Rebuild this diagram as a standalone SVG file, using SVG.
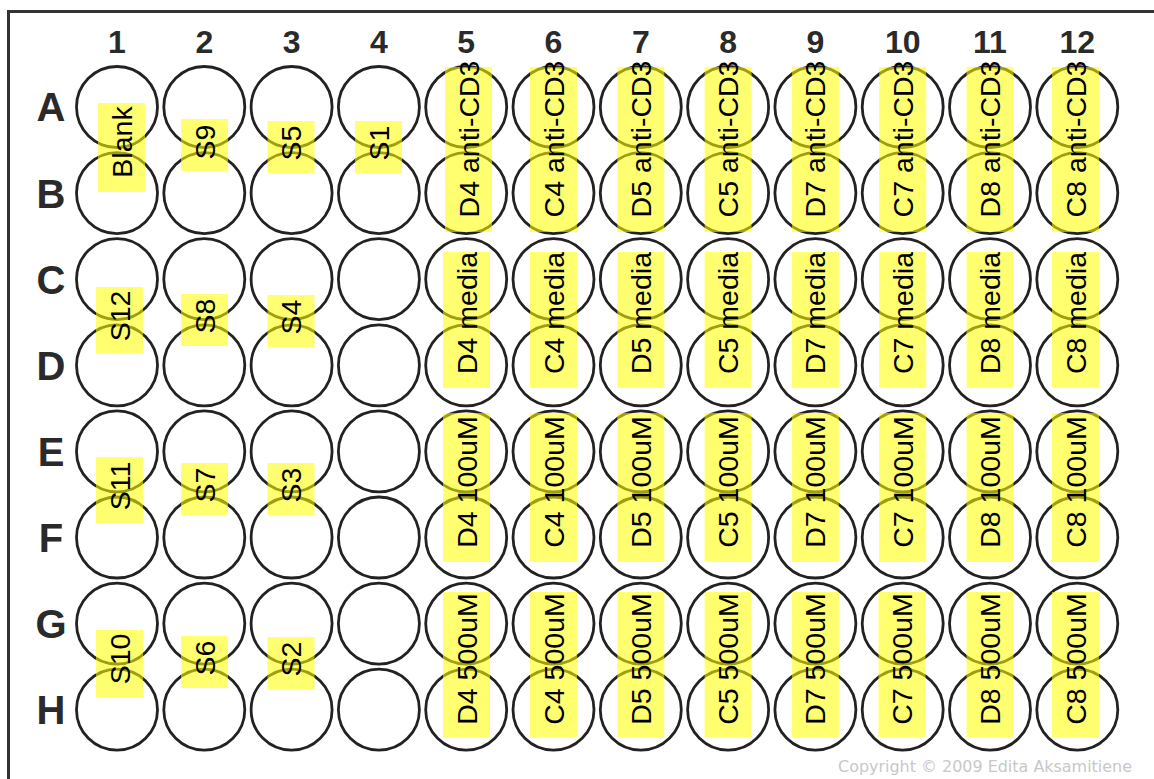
<svg xmlns="http://www.w3.org/2000/svg" width="1154" height="779" viewBox="0 0 1154 779">
<style>
.frame{fill:#fff;stroke:#333;stroke-width:3}
.well{fill:none;stroke:#222;stroke-width:2.8}
.hl{fill:#ffff00;fill-opacity:0.56}
.lbl{font-family:"Liberation Sans",Arial,sans-serif;font-size:28.5px;fill:#000;text-anchor:middle}
.row{font-family:"Liberation Sans",Arial,sans-serif;font-size:40px;font-weight:bold;fill:#2a2a2a;text-anchor:middle}
.col{font-family:"Liberation Sans",Arial,sans-serif;font-size:32px;font-weight:bold;fill:#2a2a2a;text-anchor:middle}
.copy{font-family:"DejaVu Sans",Verdana,sans-serif;font-size:16.5px;fill:#c8c8c8}
</style>
<rect class="frame" x="8.5" y="11.5" width="1200" height="800"/>
<g id="column-numbers">
<text class="col" x="117" y="53">1</text>
<text class="col" x="204.3" y="53">2</text>
<text class="col" x="291.6" y="53">3</text>
<text class="col" x="378.9" y="53">4</text>
<text class="col" x="466.2" y="53">5</text>
<text class="col" x="553.5" y="53">6</text>
<text class="col" x="640.8" y="53">7</text>
<text class="col" x="728.1" y="53">8</text>
<text class="col" x="815.4" y="53">9</text>
<text class="col" x="902.7" y="53">10</text>
<text class="col" x="990" y="53">11</text>
<text class="col" x="1077.3" y="53">12</text>
</g>
<g id="row-letters">
<text class="row" x="51" y="121">A</text>
<text class="row" x="51" y="207.5">B</text>
<text class="row" x="51" y="293.5">C</text>
<text class="row" x="51" y="379.5">D</text>
<text class="row" x="51" y="465.5">E</text>
<text class="row" x="51" y="551.5">F</text>
<text class="row" x="51" y="637.5">G</text>
<text class="row" x="51" y="724">H</text>
</g>
<g id="wells">
<g id="row-A"><circle class="well" cx="117" cy="107" r="40.5"/><circle class="well" cx="204.3" cy="107" r="40.5"/><circle class="well" cx="291.6" cy="107" r="40.5"/><circle class="well" cx="378.9" cy="107" r="40.5"/><circle class="well" cx="466.2" cy="107" r="40.5"/><circle class="well" cx="553.5" cy="107" r="40.5"/><circle class="well" cx="640.8" cy="107" r="40.5"/><circle class="well" cx="728.1" cy="107" r="40.5"/><circle class="well" cx="815.4" cy="107" r="40.5"/><circle class="well" cx="902.7" cy="107" r="40.5"/><circle class="well" cx="990" cy="107" r="40.5"/><circle class="well" cx="1077.3" cy="107" r="40.5"/></g>
<g id="row-B"><circle class="well" cx="117" cy="193.1" r="40.5"/><circle class="well" cx="204.3" cy="193.1" r="40.5"/><circle class="well" cx="291.6" cy="193.1" r="40.5"/><circle class="well" cx="378.9" cy="193.1" r="40.5"/><circle class="well" cx="466.2" cy="193.1" r="40.5"/><circle class="well" cx="553.5" cy="193.1" r="40.5"/><circle class="well" cx="640.8" cy="193.1" r="40.5"/><circle class="well" cx="728.1" cy="193.1" r="40.5"/><circle class="well" cx="815.4" cy="193.1" r="40.5"/><circle class="well" cx="902.7" cy="193.1" r="40.5"/><circle class="well" cx="990" cy="193.1" r="40.5"/><circle class="well" cx="1077.3" cy="193.1" r="40.5"/></g>
<g id="row-C"><circle class="well" cx="117" cy="279.2" r="40.5"/><circle class="well" cx="204.3" cy="279.2" r="40.5"/><circle class="well" cx="291.6" cy="279.2" r="40.5"/><circle class="well" cx="378.9" cy="279.2" r="40.5"/><circle class="well" cx="466.2" cy="279.2" r="40.5"/><circle class="well" cx="553.5" cy="279.2" r="40.5"/><circle class="well" cx="640.8" cy="279.2" r="40.5"/><circle class="well" cx="728.1" cy="279.2" r="40.5"/><circle class="well" cx="815.4" cy="279.2" r="40.5"/><circle class="well" cx="902.7" cy="279.2" r="40.5"/><circle class="well" cx="990" cy="279.2" r="40.5"/><circle class="well" cx="1077.3" cy="279.2" r="40.5"/></g>
<g id="row-D"><circle class="well" cx="117" cy="365.3" r="40.5"/><circle class="well" cx="204.3" cy="365.3" r="40.5"/><circle class="well" cx="291.6" cy="365.3" r="40.5"/><circle class="well" cx="378.9" cy="365.3" r="40.5"/><circle class="well" cx="466.2" cy="365.3" r="40.5"/><circle class="well" cx="553.5" cy="365.3" r="40.5"/><circle class="well" cx="640.8" cy="365.3" r="40.5"/><circle class="well" cx="728.1" cy="365.3" r="40.5"/><circle class="well" cx="815.4" cy="365.3" r="40.5"/><circle class="well" cx="902.7" cy="365.3" r="40.5"/><circle class="well" cx="990" cy="365.3" r="40.5"/><circle class="well" cx="1077.3" cy="365.3" r="40.5"/></g>
<g id="row-E"><circle class="well" cx="117" cy="451.4" r="40.5"/><circle class="well" cx="204.3" cy="451.4" r="40.5"/><circle class="well" cx="291.6" cy="451.4" r="40.5"/><circle class="well" cx="378.9" cy="451.4" r="40.5"/><circle class="well" cx="466.2" cy="451.4" r="40.5"/><circle class="well" cx="553.5" cy="451.4" r="40.5"/><circle class="well" cx="640.8" cy="451.4" r="40.5"/><circle class="well" cx="728.1" cy="451.4" r="40.5"/><circle class="well" cx="815.4" cy="451.4" r="40.5"/><circle class="well" cx="902.7" cy="451.4" r="40.5"/><circle class="well" cx="990" cy="451.4" r="40.5"/><circle class="well" cx="1077.3" cy="451.4" r="40.5"/></g>
<g id="row-F"><circle class="well" cx="117" cy="537.5" r="40.5"/><circle class="well" cx="204.3" cy="537.5" r="40.5"/><circle class="well" cx="291.6" cy="537.5" r="40.5"/><circle class="well" cx="378.9" cy="537.5" r="40.5"/><circle class="well" cx="466.2" cy="537.5" r="40.5"/><circle class="well" cx="553.5" cy="537.5" r="40.5"/><circle class="well" cx="640.8" cy="537.5" r="40.5"/><circle class="well" cx="728.1" cy="537.5" r="40.5"/><circle class="well" cx="815.4" cy="537.5" r="40.5"/><circle class="well" cx="902.7" cy="537.5" r="40.5"/><circle class="well" cx="990" cy="537.5" r="40.5"/><circle class="well" cx="1077.3" cy="537.5" r="40.5"/></g>
<g id="row-G"><circle class="well" cx="117" cy="623.6" r="40.5"/><circle class="well" cx="204.3" cy="623.6" r="40.5"/><circle class="well" cx="291.6" cy="623.6" r="40.5"/><circle class="well" cx="378.9" cy="623.6" r="40.5"/><circle class="well" cx="466.2" cy="623.6" r="40.5"/><circle class="well" cx="553.5" cy="623.6" r="40.5"/><circle class="well" cx="640.8" cy="623.6" r="40.5"/><circle class="well" cx="728.1" cy="623.6" r="40.5"/><circle class="well" cx="815.4" cy="623.6" r="40.5"/><circle class="well" cx="902.7" cy="623.6" r="40.5"/><circle class="well" cx="990" cy="623.6" r="40.5"/><circle class="well" cx="1077.3" cy="623.6" r="40.5"/></g>
<g id="row-H"><circle class="well" cx="117" cy="709.7" r="40.5"/><circle class="well" cx="204.3" cy="709.7" r="40.5"/><circle class="well" cx="291.6" cy="709.7" r="40.5"/><circle class="well" cx="378.9" cy="709.7" r="40.5"/><circle class="well" cx="466.2" cy="709.7" r="40.5"/><circle class="well" cx="553.5" cy="709.7" r="40.5"/><circle class="well" cx="640.8" cy="709.7" r="40.5"/><circle class="well" cx="728.1" cy="709.7" r="40.5"/><circle class="well" cx="815.4" cy="709.7" r="40.5"/><circle class="well" cx="902.7" cy="709.7" r="40.5"/><circle class="well" cx="990" cy="709.7" r="40.5"/><circle class="well" cx="1077.3" cy="709.7" r="40.5"/></g>
</g>
<g id="connectors"></g>
<g id="labels-AB">
<g id="lbl-blank"><rect class="hl" x="98" y="103" width="47" height="89"/><text class="lbl" transform="translate(131.5,142) rotate(-90)">Blank</text></g>
<g id="lbl-s9"><rect class="hl" x="181" y="119" width="47" height="52"/><text class="lbl" transform="translate(214.5,142) rotate(-90)">S9</text></g>
<g id="lbl-s5"><rect class="hl" x="267.5" y="121" width="47" height="52"/><text class="lbl" transform="translate(301,143) rotate(-90)">S5</text></g>
<g id="lbl-s1"><rect class="hl" x="355" y="121" width="47" height="52"/><text class="lbl" transform="translate(388.5,143) rotate(-90)">S1</text></g>
<g id="lbl-d4-acd3"><rect class="hl" x="445" y="67" width="47" height="165"/><text class="lbl" transform="translate(478.5,139) rotate(-90)">D4 anti-CD3</text></g>
<g id="lbl-c4-acd3"><rect class="hl" x="530" y="67" width="47" height="165"/><text class="lbl" transform="translate(563.5,139) rotate(-90)">C4 anti-CD3</text></g>
<g id="lbl-d5-acd3"><rect class="hl" x="617.3" y="67" width="47" height="165"/><text class="lbl" transform="translate(650.8,139) rotate(-90)">D5 anti-CD3</text></g>
<g id="lbl-c5-acd3"><rect class="hl" x="704.6" y="67" width="47" height="165"/><text class="lbl" transform="translate(738.1,139) rotate(-90)">C5 anti-CD3</text></g>
<g id="lbl-d7-acd3"><rect class="hl" x="791.9" y="67" width="47" height="165"/><text class="lbl" transform="translate(825.4,139) rotate(-90)">D7 anti-CD3</text></g>
<g id="lbl-c7-acd3"><rect class="hl" x="879.2" y="67" width="47" height="165"/><text class="lbl" transform="translate(912.7,139) rotate(-90)">C7 anti-CD3</text></g>
<g id="lbl-d8-acd3"><rect class="hl" x="966.5" y="67" width="47" height="165"/><text class="lbl" transform="translate(1000,139) rotate(-90)">D8 anti-CD3</text></g>
<g id="lbl-c8-acd3"><rect class="hl" x="1052" y="67" width="47" height="165"/><text class="lbl" transform="translate(1085.5,139) rotate(-90)">C8 anti-CD3</text></g>
</g>
<g id="labels-CD">
<g id="lbl-s12"><rect class="hl" x="96" y="287" width="47" height="66"/><text class="lbl" transform="translate(129.5,316) rotate(-90)">S12</text></g>
<g id="lbl-s8"><rect class="hl" x="181" y="294" width="47" height="52"/><text class="lbl" transform="translate(214.5,316) rotate(-90)">S8</text></g>
<g id="lbl-s4"><rect class="hl" x="267.5" y="295" width="47" height="52"/><text class="lbl" transform="translate(301,317) rotate(-90)">S4</text></g>
<g id="lbl-d4-media"><rect class="hl" x="443" y="252" width="47" height="136"/><text class="lbl" transform="translate(476.5,313) rotate(-90)">D4 media</text></g>
<g id="lbl-c4-media"><rect class="hl" x="530" y="252" width="47" height="136"/><text class="lbl" transform="translate(563.5,313) rotate(-90)">C4 media</text></g>
<g id="lbl-d5-media"><rect class="hl" x="617.3" y="252" width="47" height="136"/><text class="lbl" transform="translate(650.8,313) rotate(-90)">D5 media</text></g>
<g id="lbl-c5-media"><rect class="hl" x="704.6" y="252" width="47" height="136"/><text class="lbl" transform="translate(738.1,313) rotate(-90)">C5 media</text></g>
<g id="lbl-d7-media"><rect class="hl" x="791.9" y="252" width="47" height="136"/><text class="lbl" transform="translate(825.4,313) rotate(-90)">D7 media</text></g>
<g id="lbl-c7-media"><rect class="hl" x="879.2" y="252" width="47" height="136"/><text class="lbl" transform="translate(912.7,313) rotate(-90)">C7 media</text></g>
<g id="lbl-d8-media"><rect class="hl" x="966.5" y="252" width="47" height="136"/><text class="lbl" transform="translate(1000,313) rotate(-90)">D8 media</text></g>
<g id="lbl-c8-media"><rect class="hl" x="1052" y="252" width="47" height="136"/><text class="lbl" transform="translate(1085.5,313) rotate(-90)">C8 media</text></g>
</g>
<g id="labels-EF">
<g id="lbl-s11"><rect class="hl" x="96" y="457" width="47" height="66"/><text class="lbl" transform="translate(129.5,486) rotate(-90)">S11</text></g>
<g id="lbl-s7"><rect class="hl" x="181" y="463" width="47" height="52"/><text class="lbl" transform="translate(214.5,485) rotate(-90)">S7</text></g>
<g id="lbl-s3"><rect class="hl" x="267.5" y="463" width="47" height="52"/><text class="lbl" transform="translate(301,485) rotate(-90)">S3</text></g>
<g id="lbl-d4-100"><rect class="hl" x="443" y="413" width="47" height="149"/><text class="lbl" transform="translate(476.5,482) rotate(-90)">D4 100uM</text></g>
<g id="lbl-c4-100"><rect class="hl" x="530" y="413" width="47" height="149"/><text class="lbl" transform="translate(563.5,482) rotate(-90)">C4 100uM</text></g>
<g id="lbl-d5-100"><rect class="hl" x="617.3" y="413" width="47" height="149"/><text class="lbl" transform="translate(650.8,482) rotate(-90)">D5 100uM</text></g>
<g id="lbl-c5-100"><rect class="hl" x="704.6" y="413" width="47" height="149"/><text class="lbl" transform="translate(738.1,482) rotate(-90)">C5 100uM</text></g>
<g id="lbl-d7-100"><rect class="hl" x="791.9" y="413" width="47" height="149"/><text class="lbl" transform="translate(825.4,482) rotate(-90)">D7 100uM</text></g>
<g id="lbl-c7-100"><rect class="hl" x="879.2" y="413" width="47" height="149"/><text class="lbl" transform="translate(912.7,482) rotate(-90)">C7 100uM</text></g>
<g id="lbl-d8-100"><rect class="hl" x="966.5" y="413" width="47" height="149"/><text class="lbl" transform="translate(1000,482) rotate(-90)">D8 100uM</text></g>
<g id="lbl-c8-100"><rect class="hl" x="1052" y="413" width="47" height="149"/><text class="lbl" transform="translate(1085.5,482) rotate(-90)">C8 100uM</text></g>
</g>
<g id="labels-GH">
<g id="lbl-s10"><rect class="hl" x="96" y="630" width="47" height="67"/><text class="lbl" transform="translate(129.5,659) rotate(-90)">S10</text></g>
<g id="lbl-s6"><rect class="hl" x="181" y="636" width="47" height="52"/><text class="lbl" transform="translate(214.5,658) rotate(-90)">S6</text></g>
<g id="lbl-s2"><rect class="hl" x="267.5" y="637" width="47" height="52"/><text class="lbl" transform="translate(301,659) rotate(-90)">S2</text></g>
<g id="lbl-d4-500"><rect class="hl" x="443" y="592" width="47" height="145"/><text class="lbl" transform="translate(476.5,659) rotate(-90)">D4 500uM</text></g>
<g id="lbl-c4-500"><rect class="hl" x="530" y="592" width="47" height="145"/><text class="lbl" transform="translate(563.5,659) rotate(-90)">C4 500uM</text></g>
<g id="lbl-d5-500"><rect class="hl" x="617.3" y="592" width="47" height="145"/><text class="lbl" transform="translate(650.8,659) rotate(-90)">D5 500uM</text></g>
<g id="lbl-c5-500"><rect class="hl" x="704.6" y="592" width="47" height="145"/><text class="lbl" transform="translate(738.1,659) rotate(-90)">C5 500uM</text></g>
<g id="lbl-d7-500"><rect class="hl" x="791.9" y="592" width="47" height="145"/><text class="lbl" transform="translate(825.4,659) rotate(-90)">D7 500uM</text></g>
<g id="lbl-c7-500"><rect class="hl" x="878.5" y="592" width="47" height="145"/><text class="lbl" transform="translate(912,659) rotate(-90)">C7 500uM</text></g>
<g id="lbl-d8-500"><rect class="hl" x="966.5" y="592" width="47" height="145"/><text class="lbl" transform="translate(1000,659) rotate(-90)">D8 500uM</text></g>
<g id="lbl-c8-500"><rect class="hl" x="1052" y="592" width="47" height="145"/><text class="lbl" transform="translate(1085.5,659) rotate(-90)">C8 500uM</text></g>
</g>
<text class="copy" x="838" y="772" textLength="294" lengthAdjust="spacingAndGlyphs">Copyright © 2009 Edita Aksamitiene</text>
</svg>
